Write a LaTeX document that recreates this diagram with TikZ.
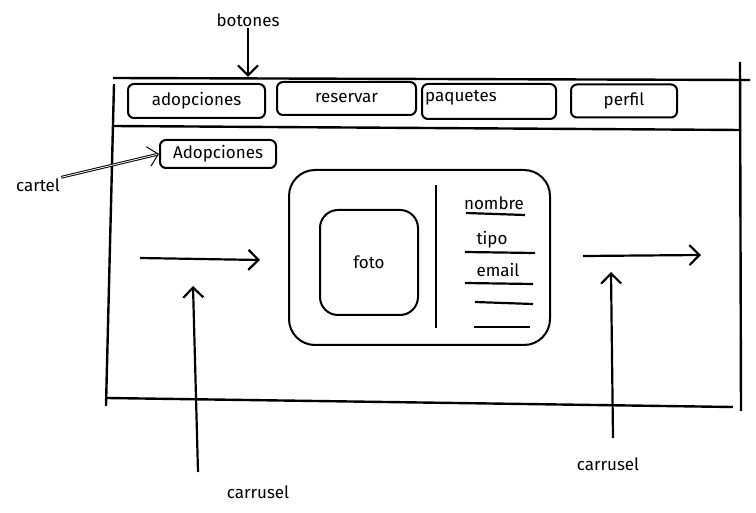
\documentclass[tikz,border=0pt]{standalone}
\usepackage{fontspec}
\setmainfont{Fira Sans}
\usepackage{tikz}
\usetikzlibrary{shapes,arrows,arrows.meta,positioning}
\tikzstyle{boton} = [rectangle, draw, line width=2pt,
    rounded corners=6pt, inner sep=0pt, text centered]
\tikzstyle{texto} = [inner sep=1pt]
\tikzstyle{borde} = [draw, line width=2.4pt]
\tikzstyle{raya} = [draw, line width=2.2pt]
\tikzstyle{flecha} = [draw, line width=2.2pt, -{Straight Barb[length=10pt, width=20pt]}]

\begin{document}
\begin{tikzpicture}[x=1pt, y=-1pt, font=\fontsize{17}{20}\selectfont]
    \useasboundingbox (0,0) rectangle (756,513);
    % Marco
    \draw [borde] (113,78) -- (750,80);
    \draw [borde] (740,62) -- (741,411);
    \draw [borde] (114,84) -- (106,406);
    \draw [borde] (107,398) -- (733,407);
    \draw [borde] (113,126) -- (741,130);

    % Place nodes
    \node [boton, minimum width=137pt, minimum height=34pt] (b1) at (196.5,101) {adopciones};
    \node [boton, minimum width=139pt, minimum height=33pt] (b2) at (346.5,98.5) {reservar};
    \node [boton, minimum width=134pt, minimum height=35pt] (b3) at (489,101.5) {};
    \node [texto, anchor=west] at (b3.west) [xshift=3pt, yshift=4pt] {paquetes};
    \node [boton, minimum width=106pt, minimum height=33pt] (b4) at (624,101) {perfil};
    \node [texto] (botones) at (248,20) {botones};

    \node [boton, minimum width=116pt, minimum height=28pt] (titulo) at (218,154) {Adopciones};
    \node [texto] (cartel) at (38,185) {cartel};

    \node [boton, rounded corners=26pt, minimum width=261pt, minimum height=175pt] (tarjeta) at (419.5,257.5) {};
    \node [boton, rounded corners=18pt, minimum width=98pt, minimum height=105pt] (foto) at (369,262.5) {foto};
    \node [texto] (nombre) at (494,203) {nombre};
    \node [texto] (tipo) at (492,240) {tipo};
    \node [texto] (email) at (498,270) {email};

    \node [texto] (carrusel1) at (258,492) {carrusel};
    \node [texto] (carrusel2) at (608,464) {carrusel};

    \coordinate (izqA) at (140,258);
    \coordinate (izqB) at (260,260);
    \coordinate (derA) at (583,256);
    \coordinate (derB) at (701,255);
    \coordinate (subeIzq) at (193,286);
    \coordinate (subeDer) at (611,272);

    % Tarjeta
    \draw [raya] (436,185) -- (436,328);
    \draw [raya] (466,213) -- (525,215);
    \draw [raya] (465,252) -- (535,253);
    \draw [raya] (465,283) -- (533,284);
    \draw [raya] (475,302) -- (533,304);
    \draw [raya] (474,327) -- (530,327);

    % Draw edges
    \path [flecha] (botones.south) -- ([yshift=6pt]b1.north -| botones);
    \path [flecha, double, double distance=0.8pt, line width=1pt] (cartel.north east) -- (titulo.west);
    \path [flecha] (izqA) -- (izqB);
    \path [flecha] (derA) -- (derB);
    \path [flecha] (carrusel1) ++(-60,-20) -- (subeIzq);
    \path [flecha] (carrusel2) ++(5,-26) -- (subeDer);
\end{tikzpicture}
\end{document}
